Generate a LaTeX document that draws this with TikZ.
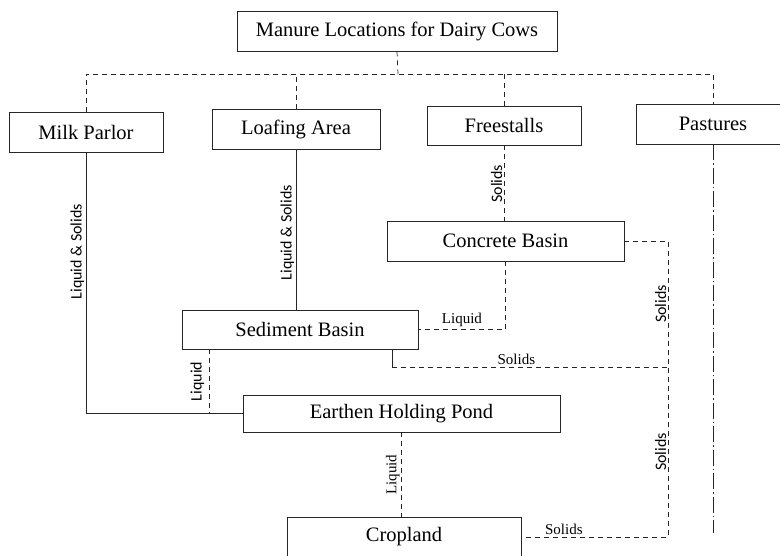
\documentclass[tikz,border=0pt]{standalone}
\usepackage{fontspec}
\setmainfont{Liberation Serif}
\newfontfamily\lblfont{Carlito}
\tikzset{
  box/.style={draw=black!85, line width=0.7pt, inner sep=0pt, font=\fontsize{20.5}{24}\selectfont},
  dsh/.style={draw=black!85, line width=0.7pt, dash pattern=on 5pt off 4pt},
  sld/.style={draw=black!85, line width=0.7pt},
  dshdot/.style={draw=black!85, line width=0.7pt, dash pattern=on 16pt off 3pt on 1.5pt off 3pt},
  vlbl/.style={rotate=90, anchor=south, inner sep=1.5pt, font=\lblfont\fontsize{16}{18}\selectfont},
  hlbl/.style={above, inner sep=2pt, font=\fontsize{15}{17}\selectfont}
}
\begin{document}
\begin{tikzpicture}[x=1pt,y=1pt,yscale=-1,xscale=1]
\clip (0,0) rectangle (780,555);

%Shape: Rectangle [id:title]
\node [box, minimum width=320, minimum height=40] (title) at (397,31) {Manure Locations for Dairy Cows};
%Shape: Rectangle [id:milk]
\node [box, minimum width=154, minimum height=40] (milk) at (86,132) {Milk Parlor};
%Shape: Rectangle [id:loaf]
\node [box, minimum width=168, minimum height=40] (loaf) at (296,129) {Loafing Area};
%Shape: Rectangle [id:free]
\node [box, minimum width=154, minimum height=39] (free) at (504,125.5) {Freestalls};
%Shape: Rectangle [id:past]
\node [box, minimum width=154, minimum height=40] (past) at (713,124) {Pastures};
%Shape: Rectangle [id:concrete]
\node [box, minimum width=237, minimum height=40] (concrete) at (505.5,241) {Concrete Basin};
%Shape: Rectangle [id:sediment]
\node [box, minimum width=236, minimum height=39] (sediment) at (300,329.5) {Sediment Basin};
%Shape: Rectangle [id:earthen]
\node [box, minimum width=317, minimum height=37] (earthen) at (401.5,413.5) {Earthen Holding Pond};
%Shape: Rectangle [id:crop]
\node [box, minimum width=234, minimum height=40] (crop) at (404,537) {Cropland};

% Coordinates
\coordinate (bus) at (398,74);
\coordinate (sj) at (668,367);
\coordinate (pend) at (713,533);
\coordinate (sstub) at ([xshift=-26pt]sediment.south east);
\coordinate (sliq) at ([xshift=28pt]sediment.south west);

%Straight Lines [id:tree]
\draw [dsh] (title.south) -- (bus);
\draw [dsh] (milk.north) |- (past.north |- bus) -- (past.north);
\draw [dsh] (loaf.north) -- (loaf.north |- bus);
\draw [dsh] (free.north) -- (free.north |- bus);

%Straight Lines [id:milkline]
\draw [sld] (milk.south) |- node[vlbl, pos=0.19] {Liquid \& Solids} (earthen.west);
%Straight Lines [id:loafline]
\draw [sld] (loaf.south) -- node[vlbl, pos=0.52] {Liquid \& Solids} (loaf.south |- sediment.north);
%Straight Lines [id:freeline]
\draw [dsh] (free.south) -- node[vlbl, pos=0.51] {Solids} (free.south |- concrete.north);
%Straight Lines [id:concliquid]
\draw [dsh] (concrete.south) |- node[hlbl, pos=0.75] {Liquid} (sediment.east);
%Straight Lines [id:concsolids]
\draw [dsh] (concrete.east) -| node[vlbl, pos=0.75] {Solids} (sj) -- node[vlbl, midway] {Solids} (sj |- crop.east) -- node[hlbl, pos=0.71] {Solids} (crop.east);
%Straight Lines [id:sedsolids]
\draw [sld] (sstub) -- (sstub |- sj);
\draw [dsh] (sstub |- sj) -- node[hlbl, pos=0.45] {Solids} (sj);
%Straight Lines [id:sedliquid]
\draw [dsh] (sliq) -- node[vlbl, midway, inner sep=5pt] {Liquid} (sliq |- earthen.west);
%Straight Lines [id:pondliquid]
\draw [dsh] (earthen.south) -- node[vlbl, midway, font=\fontsize{15}{17}\selectfont] {Liquid} (earthen.south |- crop.north);
%Straight Lines [id:pastline]
\draw [dshdot] (past.south) -- (past.south |- pend);

\end{tikzpicture}
\end{document}
